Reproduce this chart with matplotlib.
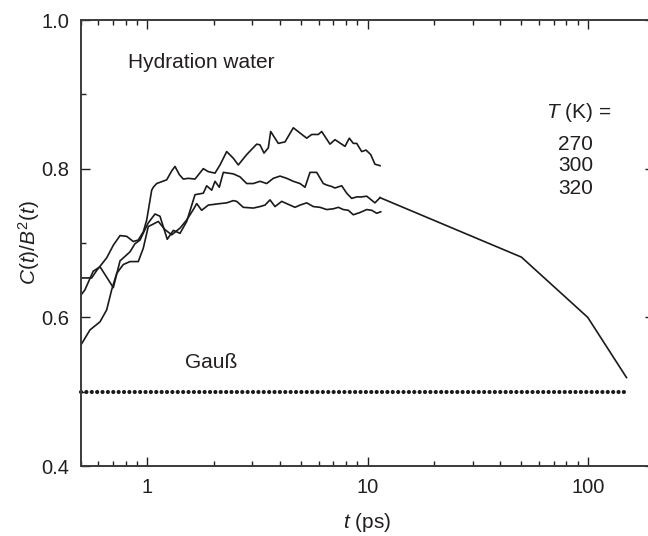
import matplotlib
matplotlib.use("Agg")
import matplotlib.pyplot as plt
from matplotlib.ticker import FixedLocator, FixedFormatter, LogLocator, NullFormatter

# ---------------- data ----------------
t_270 = [0.5, 0.559, 0.589, 0.654, 0.701, 0.752, 0.806, 0.864, 0.910, 0.959, 0.994,
         1.047, 1.065, 1.103, 1.225, 1.291, 1.336, 1.398, 1.457, 1.536, 1.647, 1.796,
         1.892, 2.030, 2.139, 2.294, 2.458, 2.590, 2.828, 3.140, 3.250, 3.388, 3.544,
         3.634, 3.935, 4.221, 4.603, 4.937, 5.296, 5.580, 5.978, 6.194, 6.755, 7.117,
         7.904, 8.268, 8.621, 8.933, 9.410, 9.845, 10.34, 10.81, 11.40]
v_270 = [0.653, 0.653, 0.663, 0.680, 0.697, 0.710, 0.709, 0.702, 0.704, 0.715, 0.731,
         0.771, 0.775, 0.780, 0.785, 0.797, 0.803, 0.792, 0.786, 0.787, 0.786, 0.800,
         0.796, 0.794, 0.805, 0.823, 0.814, 0.805, 0.819, 0.833, 0.832, 0.821, 0.828,
         0.850, 0.834, 0.836, 0.855, 0.848, 0.841, 0.846, 0.846, 0.850, 0.833, 0.839,
         0.830, 0.841, 0.834, 0.834, 0.823, 0.825, 0.819, 0.806, 0.804]

t_300 = [0.5, 0.521, 0.568, 0.610, 0.654, 0.701, 0.752, 0.834, 0.879, 0.927, 0.976,
         1.010, 1.084, 1.142, 1.232, 1.313, 1.408, 1.510, 1.647, 1.796, 1.861, 1.961,
         2.030, 2.123, 2.214, 2.458, 2.636, 2.828, 3.030, 3.250, 3.485, 3.735, 4.006,
         4.297, 4.603, 4.937, 5.203, 5.482, 5.879, 6.300, 6.527, 6.878, 7.117, 7.636,
         8.045, 8.477, 8.933, 9.410, 9.917, 10.81, 11.40]
v_300 = [0.630, 0.637, 0.662, 0.668, 0.654, 0.640, 0.676, 0.688, 0.699, 0.704, 0.718,
         0.727, 0.739, 0.736, 0.705, 0.717, 0.713, 0.729, 0.765, 0.767, 0.777, 0.771,
         0.783, 0.775, 0.795, 0.793, 0.789, 0.780, 0.780, 0.783, 0.780, 0.787, 0.790,
         0.787, 0.783, 0.780, 0.775, 0.795, 0.795, 0.780, 0.778, 0.776, 0.774, 0.777,
         0.767, 0.760, 0.762, 0.762, 0.763, 0.754, 0.761]

t_320 = [0.5, 0.549, 0.610, 0.654, 0.689, 0.726, 0.778, 0.834, 0.910, 0.959, 1.010,
         1.122, 1.203, 1.291, 1.408, 1.510, 1.618, 1.676, 1.766, 1.892, 2.139, 2.294,
         2.458, 2.547, 2.729, 3.030, 3.250, 3.424, 3.608, 3.802, 4.077, 4.446, 4.686,
         4.937, 5.296, 5.675, 6.085, 6.527, 6.995, 7.370, 7.765, 8.181, 8.621, 9.247,
         9.917, 10.45, 11.01, 11.48]
v_320 = [0.563, 0.583, 0.594, 0.610, 0.637, 0.659, 0.671, 0.675, 0.675, 0.693, 0.722,
         0.729, 0.718, 0.711, 0.720, 0.731, 0.745, 0.753, 0.744, 0.751, 0.753, 0.754,
         0.757, 0.756, 0.748, 0.747, 0.749, 0.751, 0.758, 0.749, 0.756, 0.751, 0.748,
         0.751, 0.754, 0.749, 0.748, 0.745, 0.746, 0.748, 0.745, 0.744, 0.738, 0.741,
         0.745, 0.744, 0.740, 0.742]

# long-time extension of the 300 K curve
t_tail = [11.40, 50, 100, 150]
v_tail = [0.761, 0.681, 0.600, 0.519]

# Gaussian limit
t_gauss = [0.5, 150]
v_gauss = [0.5, 0.5]

temps = ["270", "300", "320"]

x_major = [1, 10, 100]
x_major_labels = ["1", "10", "100"]
y_major = [0.4, 0.6, 0.8, 1.0]
y_major_labels = ["0.4", "0.6", "0.8", "1.0"]
y_minor = [0.5, 0.7, 0.9]

# ---------------- style ----------------
plt.rcParams['font.family'] = ['Liberation Sans', 'DejaVu Sans']
plt.rcParams['mathtext.fontset'] = 'custom'
plt.rcParams['mathtext.rm'] = 'Liberation Sans'
plt.rcParams['mathtext.it'] = 'Liberation Sans:italic'

TXT = '#231f20'
LINE = '#1a1a1a'

fig = plt.figure(figsize=(6.48, 5.36), dpi=100)
ax = fig.add_axes([81/648, 1 - 466/536, 573/648, 446/536])

ax.set_xscale('log')
ax.set_xlim(0.5, 200)
ax.set_ylim(0.4, 1.0)

lw = 1.2
ax.plot(t_270, v_270, color=LINE, lw=lw)
ax.plot(t_300, v_300, color=LINE, lw=lw)
ax.plot(t_320, v_320, color=LINE, lw=lw)
ax.plot(t_tail, v_tail, color=LINE, lw=lw)
ax.plot(t_gauss, v_gauss, color=LINE, lw=3.0, linestyle=(0, (0.01, 1.28)),
        dash_capstyle='round', solid_capstyle='round', clip_on=False)

# ticks
ax.xaxis.set_major_locator(FixedLocator(x_major))
ax.xaxis.set_major_formatter(FixedFormatter(x_major_labels))
ax.xaxis.set_minor_locator(LogLocator(base=10, subs=(2, 3, 4, 5, 6, 7, 8, 9)))
ax.xaxis.set_minor_formatter(NullFormatter())
ax.yaxis.set_major_locator(FixedLocator(y_major))
ax.yaxis.set_major_formatter(FixedFormatter(y_major_labels))
ax.yaxis.set_minor_locator(FixedLocator(y_minor))

ax.tick_params(which='both', direction='in', top=True, right=True,
               colors=TXT, width=1.0)
ax.tick_params(which='major', length=6.7, labelsize=14.5, pad=8.5)
ax.tick_params(which='minor', length=3.3)
for s in ax.spines.values():
    s.set_color('#3a3a3a')
    s.set_linewidth(1.4)

ax.set_xlabel(r'$t$ (ps)', fontsize=15, color=TXT)
ax.set_ylabel(r'$C(t)/B^{2}(t)$', fontsize=15, color=TXT)
ax.xaxis.set_label_coords(0.5, -0.10)
ax.yaxis.set_label_coords(-0.068, 0.5)

ax.text(0.817, 0.935, 'Hydration water', fontsize=15, color=TXT,
        ha='left', va='baseline')
ax.text(1.95, 0.539, 'Gauß', fontsize=15, color=TXT, ha='center', va='center')
ax.text(91.3, 0.876, r'$T$ (K) =', fontsize=15, color=TXT, ha='center', va='center')
for lab, yv in zip(temps, [0.833, 0.804, 0.773]):
    ax.text(88.4, yv, lab, fontsize=15, color=TXT, ha='center', va='center')

fig.savefig('out.png', dpi=100)
